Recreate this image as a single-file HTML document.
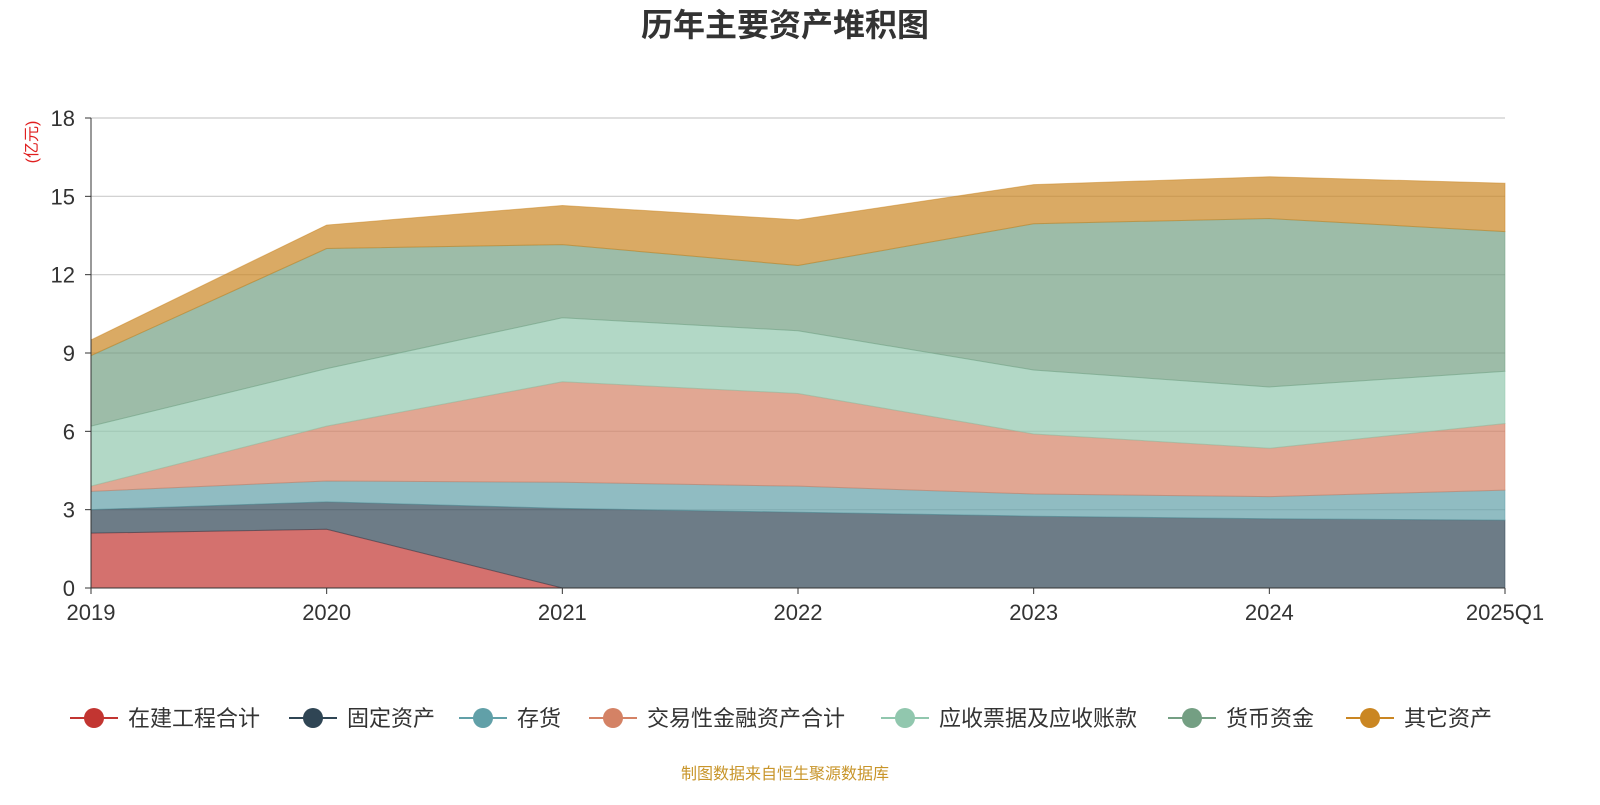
<!DOCTYPE html>
<html><head><meta charset="utf-8"><style>
body{margin:0;width:1600px;height:800px;background:#fff;overflow:hidden;font-family:"Liberation Sans","Noto Sans CJK SC",sans-serif}
</style></head><body>
<svg width="1600" height="800" xmlns="http://www.w3.org/2000/svg" font-family="Liberation Sans, Noto Sans CJK SC, sans-serif">
<text x="785" y="36" text-anchor="middle" font-size="32" font-weight="bold" fill="#333">历年主要资产堆积图</text>
<text transform="translate(37,142) rotate(-90)" text-anchor="middle" font-size="16" fill="#e02020">(亿元)</text>
<g id="grid"></g><g id="areas"></g><g id="axes"></g><g id="legend"></g>
<text x="785" y="779" text-anchor="middle" font-size="16" fill="#c8952a">制图数据来自恒生聚源数据库</text>
</svg>
<script>
const categories=["2019","2020","2021","2022","2023","2024","2025Q1"];
const yTicks=[0,3,6,9,12,15,18];
const seriesNames=["在建工程合计","固定资产","存货","交易性金融资产合计","应收票据及应收账款","货币资金","其它资产"];
const sConstruction=[2.1,2.25,0,0,0,0,0];
const sFixed=[0.9,1.05,3.05,2.9,2.75,2.65,2.6];
const sInventory=[0.7,0.8,1.0,1.0,0.85,0.85,1.15];
const sTrading=[0.2,2.1,3.85,3.55,2.3,1.85,2.55];
const sReceivable=[2.3,2.2,2.45,2.4,2.45,2.35,2.0];
const sCash=[2.7,4.6,2.8,2.5,5.6,6.45,5.35];
const sOther=[0.6,0.9,1.5,1.75,1.5,1.6,1.85];
const seriesData=[sConstruction,sFixed,sInventory,sTrading,sReceivable,sCash,sOther];
const colors=["#c23531","#2f4554","#61a0a8","#d48265","#91c7ae","#749f83","#ca8622"];
const NS="http://www.w3.org/2000/svg";
const X0=91,X1=1505,Y0=588,Y1=118;
const xS=i=>X0+(X1-X0)*i/(categories.length-1);
const yS=v=>Y0-(Y0-Y1)*v/18;
function mk(t,a,p){const e=document.createElementNS(NS,t);for(const k in a)e.setAttribute(k,a[k]);p.appendChild(e);return e;}
const grid=document.getElementById('grid'),areas=document.getElementById('areas'),axes=document.getElementById('axes'),legend=document.getElementById('legend');
yTicks.forEach(v=>{
 if(v>0){const l=mk('line',{x1:X0,x2:X1,y1:yS(v),y2:yS(v),stroke:'#ccc','stroke-width':1.2},grid);
 
 }
 const t=mk('text',{x:X0-16,y:yS(v)+8,'text-anchor':'end','font-size':22,fill:'#333'},axes);t.textContent=v;
 
 
 mk('line',{x1:X0-6,x2:X0,y1:yS(v),y2:yS(v),stroke:'#333'},axes);
});
let base=categories.map(()=>0);
seriesData.forEach((s,k)=>{
 const top=base.map((b,i)=>b+s[i]);
 let d='M'+top.map((v,i)=>xS(i)+','+yS(v)).join(' L');
 for(let i=categories.length-1;i>=0;i--)d+=' L'+xS(i)+','+yS(base[i]);
 const p=mk('path',{d:d+'Z',fill:colors[k],'fill-opacity':0.7,stroke:colors[k],'stroke-opacity':0.5,'stroke-width':1},areas);
 
 
 base=top;
});
mk('line',{x1:X0,x2:X0,y1:Y1,y2:Y0,stroke:'#333'},axes);
mk('line',{x1:X0,x2:X1,y1:Y0,y2:Y0,stroke:'#333'},axes);
categories.forEach((c,i)=>{
 mk('line',{x1:xS(i),x2:xS(i),y1:Y0,y2:Y0+6,stroke:'#333'},axes);
 const t=mk('text',{x:xS(i),y:Y0+32,'text-anchor':'middle','font-size':22,fill:'#333'},axes);t.textContent=c;
 
 
});
const lx=[94,313,483,613,905,1192,1370];
seriesNames.forEach((n,k)=>{
 const g=mk('g',{},legend);
 
 
 mk('line',{x1:lx[k]-24,x2:lx[k]+24,y1:718,y2:718,stroke:colors[k],'stroke-width':2},g);
 mk('circle',{cx:lx[k],cy:718,r:10,fill:colors[k]},g);
 const t=mk('text',{x:lx[k]+34,y:726,'font-size':22,fill:'#333'},g);t.textContent=n;
});
</script>
</body></html>
